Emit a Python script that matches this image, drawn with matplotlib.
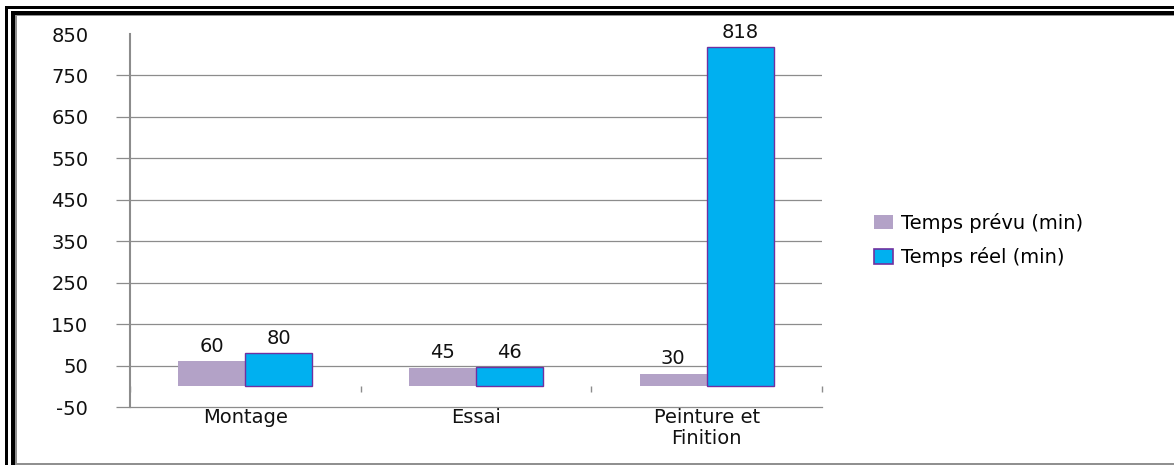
import matplotlib
matplotlib.use("Agg")
import matplotlib.pyplot as plt
from matplotlib.patches import Rectangle, Patch
import numpy as np

categories = ["Montage", "Essai", "Peinture et\nFinition"]
prevu = [60, 45, 30]
reel = [80, 46, 818]
series_names = ["Temps prévu (min)", "Temps réel (min)"]
yticks = [-50, 50, 150, 250, 350, 450, 550, 650, 750, 850]

W, H = 1174, 465
fig = plt.figure(figsize=(W / 100, H / 100), dpi=100)
fig.patch.set_facecolor("white")

ax = fig.add_axes([130 / W, 1 - 407 / H, (822 - 130) / W, (407 - 34) / H])
ymin, ymax = -50, 850
ax.set_ylim(ymin, ymax)
ax.set_xlim(-0.5, len(categories) - 0.5)

x = np.arange(len(categories))
bw = 0.29
c_prevu = "#B3A2C7"
c_reel = "#00B0F0"
edge = "#7030A0"
b1 = ax.bar(x - bw / 2, prevu, bw, color=c_prevu, linewidth=0, zorder=3)
b2 = ax.bar(x + bw / 2, reel, bw, color=c_reel, edgecolor=edge, linewidth=1.0, zorder=3)

fs = 14
for rects, vals in ((b1, prevu), (b2, reel)):
    for r, v in zip(rects, vals):
        ax.annotate(str(v), (r.get_x() + r.get_width() / 2, v), xytext=(0, 4),
                    textcoords="offset points", ha="center", va="bottom",
                    fontsize=fs, color="#111111")

ax.set_yticks(yticks)
ax.set_yticklabels([str(t) for t in yticks], fontsize=fs, color="#111111")
grid_c = "#8C8C8C"
for t in yticks[1:-1]:
    ax.axhline(t, color=grid_c, linewidth=0.9, zorder=1)
ax.tick_params(axis="y", length=10, color=grid_c, width=0.9, pad=20)
ax.yaxis.get_major_ticks()[-1].tick1line.set_visible(False)

ax.set_xticks(x)
ax.set_xticklabels(categories, fontsize=fs, color="#111111", linespacing=1.1)
ax.tick_params(axis="x", length=0, pad=1)

for s in ("top", "right"):
    ax.spines[s].set_visible(False)
ax.spines["left"].set_color(grid_c)
ax.spines["left"].set_linewidth(1.5)
ax.spines["bottom"].set_color(grid_c)
ax.spines["bottom"].set_linewidth(0.9)

sec = ax.secondary_xaxis((0 - ymin) / (ymax - ymin))
sec.set_xticks(np.arange(len(categories) + 1) - 0.5)
sec.set_xticklabels([])
sec.spines["bottom"].set_visible(False)
sec.tick_params(length=4, color=grid_c, width=1)

handles = [Patch(facecolor=c_prevu, edgecolor="none"),
           Patch(facecolor=c_reel, edgecolor=edge, linewidth=1.2)]
fig.legend(handles, series_names, loc="center left",
           bbox_to_anchor=(856 / W, 1 - 240 / H), frameon=False,
           fontsize=fs, handlelength=1.0, handleheight=0.75,
           handletextpad=0.4, labelspacing=0.75)

def prect(x0, y0, x1, y1, color):
    fig.add_artist(Rectangle((x0 / W, 1 - y1 / H), (x1 - x0) / W, (y1 - y0) / H,
                             transform=fig.transFigure, facecolor=color,
                             edgecolor="none", zorder=10))

prect(5, 6, 8, H, "black")
prect(5, 6, W, 9, "black")
prect(11, 11, 15, H, "black")
prect(11, 11, W, 15, "black")
prect(15, 15, 17, H, "#909090")
prect(15, 15, W, 16.5, "#909090")
prect(15, 463, W, H, "#909090")

fig.savefig("out.png", dpi=100)
